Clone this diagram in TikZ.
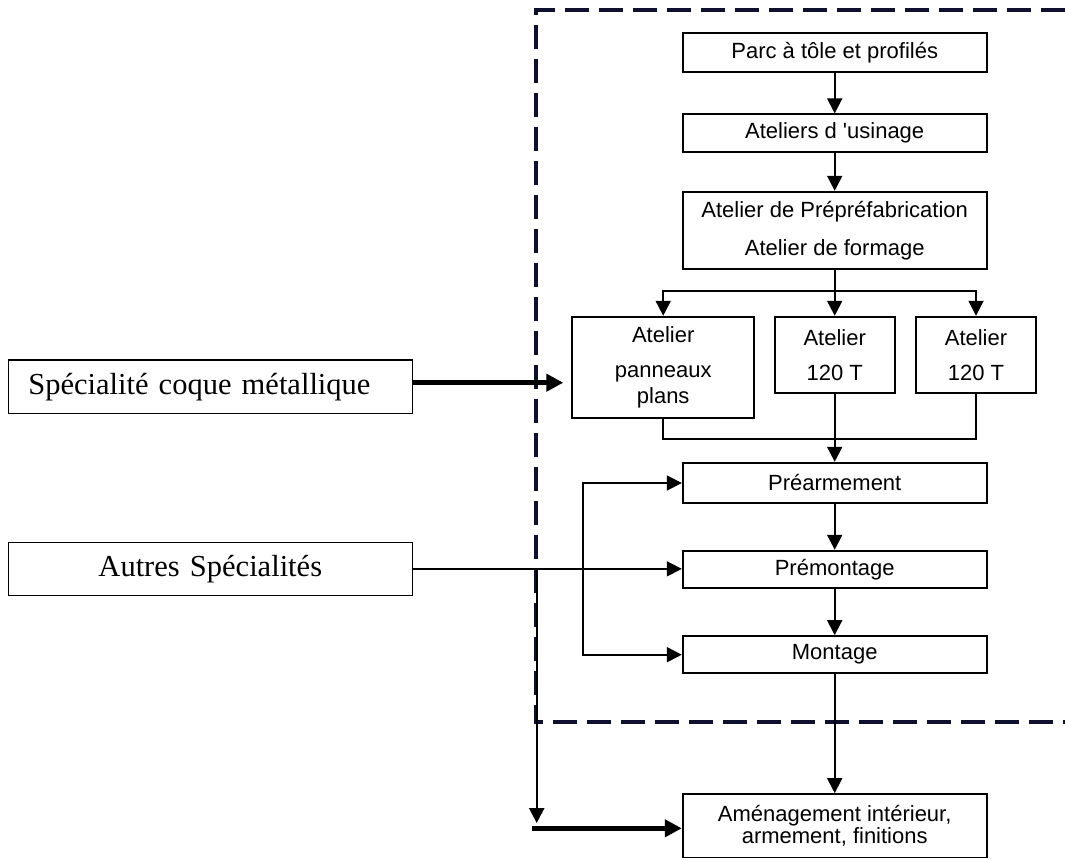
\documentclass[tikz,border=0pt]{standalone}
\usepackage{fontspec}
\setmainfont{Liberation Serif}
\newfontfamily\boxfont{Liberation Sans}
\usepackage{tikz}
\usetikzlibrary{arrows.meta}
\definecolor{navy}{RGB}{14,16,48}

\begin{document}
\begin{tikzpicture}[x=1pt,y=-1pt,
    >={Triangle[length=15pt,width=15pt]},
    box/.style={draw, line width=1.8pt, inner sep=0pt, align=center, font=\boxfont\fontsize{22}{26}\selectfont},
    spec/.style={draw, line width=1.4pt, inner sep=0pt, minimum width=404pt, minimum height=53.3pt, font=\fontsize{30.5}{36}\selectfont},
    flow/.style={line width=1.8pt, ->},
    bold/.style={line width=4.5pt, -{Triangle[length=17pt,width=17pt]}}]
    \useasboundingbox (0,0) rectangle (1065,859);

    % Draw workshop frame
    \draw[navy, line width=4pt, dash pattern=on 24pt off 10pt] (1065,10) -- (536,10) -- (536,721.7) -- (1065,721.7);

    % Specialities on the left
    \node[spec, text width=364pt, inner xsep=20pt, align=left] (coque) at (210.3,386.7) {Spécialité coque métallique};
    \node[spec, text width=404pt, align=center] (autres) at (210.3,568.85) {Autres Spécialités};

    % Main chain of workshops
    \foreach \n/\y/\h/\t in {parc/52.5/38.4/{Parc à tôle et profilés}, usinage/133.3/38/{Ateliers d 'usinage}, fab/230.5/77.6/{Atelier de Prépréfabrication\\[11.6pt]Atelier de formage}, prearm/483/40.6/Préarmement, premont/569.5/37.6/Prémontage, montage/654.7/37.3/Montage} {
      \node[box, minimum width=304pt, minimum height=\h pt] (\n) at (834.7,\y) {\t};
    }
    \node[box, minimum width=304pt, minimum height=63.5pt, font=\boxfont\fontsize{22}{22}\selectfont] (amenag) at (834.7,825.8) {Aménagement intérieur,\\armement, finitions};

    % Parallel workshops
    \node[box, minimum width=181.7pt, minimum height=101.6pt] (panneaux) at (663.2,367.5) {Atelier\\[9pt]panneaux\\plans};
    \node[box, minimum width=120pt, minimum height=76pt] (presse1) at (834.7,354.7) {Atelier\\[9pt]120 T};
    \node[box, minimum width=120pt, minimum height=76pt] (presse2) at (976,354.7) {Atelier\\[9pt]120 T};

    \coordinate (split) at (834.7,291);
    \coordinate (merge) at (834.7,439.3);
    \coordinate (hull) at (563.3,382.7);
    \coordinate (jn) at (536.7,568.85);
    \coordinate (drop) at (536.7,823);
    \coordinate (feed) at (532,828.3);

    % Flow between workshops
    \draw[flow] (parc) -- (usinage);
    \draw[flow] (usinage) -- (fab);
    \draw[line width=1.8pt] (fab) -- (split);
    \draw[flow] (split) -| (panneaux);
    \draw[flow] (split) -- (presse1);
    \draw[flow] (split) -| (presse2);
    \draw[line width=1.8pt] (panneaux) |- (merge) -| (presse2);
    \draw[flow] (presse1) -- (prearm);
    \draw[flow] (prearm) -- (premont);
    \draw[flow] (premont) -- (montage);
    \draw[flow] (montage) -- (amenag);
    \draw[flow, <->] (prearm.west) -- ++(-98.7,0) |- (montage.west);

    % Inputs from the specialities
    \draw[bold] (coque.east |- hull) -- (hull);
    \draw[flow] (autres) -- (autres -| premont.west);
    \draw[line width=2.4pt, ->] (jn) -- (drop);
    \draw[bold] (feed) -- (feed -| amenag.west);
\end{tikzpicture}
\end{document}
